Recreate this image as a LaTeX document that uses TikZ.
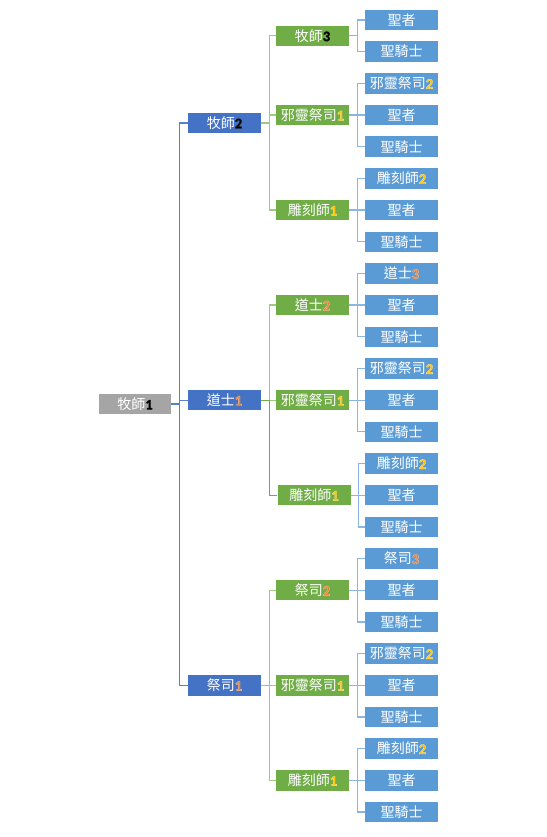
\documentclass[tikz,border=0pt]{standalone}
\usepackage{fontspec}
\setmainfont{Noto Sans CJK TC}
\newfontfamily\digf{Carlito}
\definecolor{rootgray}{HTML}{A5A5A5}
\definecolor{lvone}{HTML}{4472C4}
\definecolor{lvtwo}{HTML}{70AD47}
\definecolor{lvthree}{HTML}{5B9BD5}
\definecolor{digor}{HTML}{ED7D31}
\definecolor{diggd}{HTML}{FFC000}
\definecolor{cone}{HTML}{5B7FC8}
\definecolor{ctwo}{HTML}{9CCB7C}
\definecolor{ctwod}{HTML}{70AD47}
\definecolor{cthree}{HTML}{8AB7E2}
% digit with a light outline (PDF text render mode 2: fill + stroke)
\newcommand\glowdigit[3]{{\digf\bfseries\fontsize{14.5}{14}\selectfont
  \textcolor{#2}{\special{pdf:literal direct 2 Tr 0.4 w #1 RG}#3\special{pdf:literal direct 0 Tr}}}}
\newcommand\dor[1]{\glowdigit{0.97 0.72 0.55}{digor}{#1}}
\newcommand\dgd[1]{\glowdigit{1 0.88 0.5}{diggd}{#1}}
\newcommand\dbk[1]{\glowdigit{0.1 0.1 0.1}{black}{#1}}
\tikzset{
  boxbase/.style={text=white, minimum width=73pt, minimum height=20.5pt, inner sep=0pt,
    font=\fontsize{14}{14}\selectfont},
  rootbox/.style={boxbase, fill=rootgray, minimum width=72pt},
  lvonebox/.style={boxbase, fill=lvone},
  lvtwobox/.style={boxbase, fill=lvtwo},
  lvthreebox/.style={boxbase, fill=lvthree},
  conone/.style={draw=cone, line width=1.3pt},
  contwo/.style={draw=ctwo, line width=1.3pt},
  contwod/.style={draw=ctwod, line width=1.3pt},
  conthree/.style={draw=cthree, line width=1.3pt},
}
\begin{document}
\begin{tikzpicture}[x=1pt,y=-1pt]
\useasboundingbox (0,0) rectangle (546,837);
% root
\node[rootbox] (r) at (135,404.12) {牧師\dbk{1}};
% level 1
\node[lvonebox] (a) at (224.5,122.96) {牧師\dbk{2}};
\node[lvonebox] (b) at (224.5,400.16) {道士\dor{1}};
\node[lvonebox] (c) at (224.5,685.28) {祭司\dor{1}};
% level 2
\node[lvtwobox] (a1) at (312.5,35.84) {牧師\dbk{3}};
\node[lvtwobox] (a2) at (312.5,115.04) {邪靈祭司\dgd{1}};
\node[lvtwobox] (a3) at (312.5,210.08) {雕刻師\dgd{1}};
\node[lvtwobox] (b1) at (312.5,305.12) {道士\dor{2}};
\node[lvtwobox] (b2) at (312.5,400.16) {邪靈祭司\dgd{1}};
\node[lvtwobox] (b3) at (314,495.2) {雕刻師\dgd{1}};
\node[lvtwobox] (c1) at (312.5,590.24) {祭司\dor{2}};
\node[lvtwobox] (c2) at (312.5,685.28) {邪靈祭司\dgd{1}};
\node[lvtwobox] (c3) at (312.5,780.32) {雕刻師\dgd{1}};
% level 3
\node[lvthreebox] (a1a) at (401.5,20) {聖者};
\node[lvthreebox] (a1b) at (401.5,51.68) {聖騎士};
\node[lvthreebox] (a2a) at (401.5,83.36) {邪靈祭司\dgd{2}};
\node[lvthreebox] (a2b) at (401.5,115.04) {聖者};
\node[lvthreebox] (a2c) at (401.5,146.72) {聖騎士};
\node[lvthreebox] (a3a) at (401.5,178.40) {雕刻師\dgd{2}};
\node[lvthreebox] (a3b) at (401.5,210.08) {聖者};
\node[lvthreebox] (a3c) at (401.5,241.76) {聖騎士};
\node[lvthreebox] (b1a) at (401.5,273.44) {道士\dor{3}};
\node[lvthreebox] (b1b) at (401.5,305.12) {聖者};
\node[lvthreebox] (b1c) at (401.5,336.80) {聖騎士};
\node[lvthreebox] (b2a) at (401.5,368.48) {邪靈祭司\dgd{2}};
\node[lvthreebox] (b2b) at (401.5,400.16) {聖者};
\node[lvthreebox] (b2c) at (401.5,431.84) {聖騎士};
\node[lvthreebox] (b3a) at (401.5,463.52) {雕刻師\dgd{2}};
\node[lvthreebox] (b3b) at (401.5,495.2) {聖者};
\node[lvthreebox] (b3c) at (401.5,526.88) {聖騎士};
\node[lvthreebox] (c1a) at (401.5,558.56) {祭司\dor{3}};
\node[lvthreebox] (c1b) at (401.5,590.24) {聖者};
\node[lvthreebox] (c1c) at (401.5,621.92) {聖騎士};
\node[lvthreebox] (c2a) at (401.5,653.60) {邪靈祭司\dgd{2}};
\node[lvthreebox] (c2b) at (401.5,685.28) {聖者};
\node[lvthreebox] (c2c) at (401.5,716.96) {聖騎士};
\node[lvthreebox] (c3a) at (401.5,748.64) {雕刻師\dgd{2}};
\node[lvthreebox] (c3b) at (401.5,780.32) {聖者};
\node[lvthreebox] (c3c) at (401.5,812) {聖騎士};
% connectors root -> level 1
\foreach \ch in {a,b,c}
  \draw[conone] (r.east) -- ++(8.5,0) |- (\ch.west);
% level 1 -> level 2
\foreach \p in {a,b,c}{
  \draw[contwo] (\p.east) -- ++(8,0) |- (\p1.west);
  \draw[contwo] (\p.east) -- ++(8,0) |- (\p2.west);
}
\draw[contwo] (a.east) -- ++(8,0) |- (a3.west);
\draw[contwod] (b.east) -- ++(8,0) |- (b3.west);
\draw[contwo] (c.east) -- ++(8,0) |- (c3.west);
% level 2 -> level 3
\draw[conthree] (a1.east) -- ++(8,0) |- (a1a.west);
\draw[conthree] (a1.east) -- ++(8,0) |- (a1b.west);
\foreach \p in {a2,a3,b1,b2,b3,c1,c2,c3}
  \foreach \s in {a,b,c}
    \draw[conthree] (\p.east) -- ++(8,0) |- (\p\s.west);
\end{tikzpicture}
\end{document}
